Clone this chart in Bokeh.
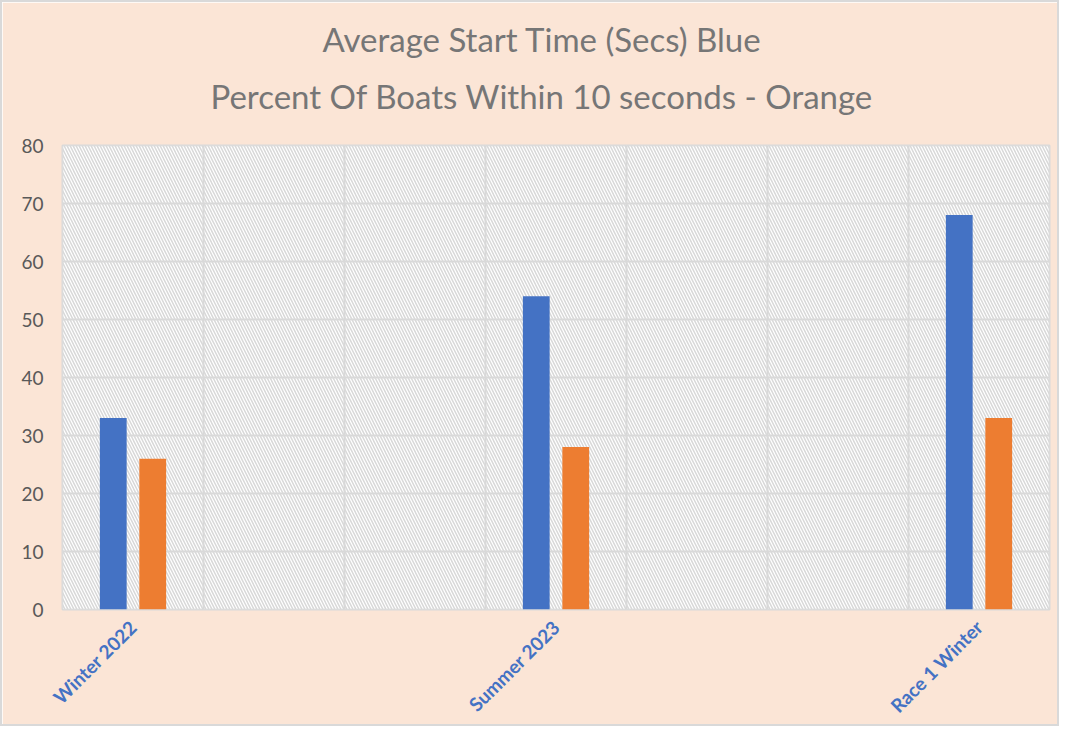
from math import pi
from bokeh.plotting import figure
from bokeh.models import (ColumnDataSource, FixedTicker, Range1d, BoxAnnotation, Title)
from bokeh.embed import file_html
from bokeh.resources import INLINE

# ---- data ----
categories = ["Winter 2022", "", "", "Summer 2023", "", "", "Race 1 Winter"]
avg_start_secs = [33, None, None, 54, None, None, 68]      # blue
pct_within_10s = [26, None, None, 28, None, None, 33]      # orange
title_line1 = "Average Start Time (Secs) Blue"
title_line2 = "Percent Of Boats Within 10 seconds - Orange"
y_ticks = [0, 10, 20, 30, 40, 50, 60, 70, 80]

positions = list(range(1, len(categories) + 1))

def build(vals):
    xs, tops = [], []
    for x, v in zip(positions, vals):
        if v is not None:
            xs.append(x)
            tops.append(v)
    return ColumnDataSource(dict(x=xs, top=tops))

src_blue = build(avg_start_secs)
src_orange = build(pct_within_10s)

BG = "#FBE5D6"
GRID = "#D9D9D9"
TITLE_C = "#767676"

p = figure(width=1059, height=726, output_backend="svg", toolbar_location=None,
           x_range=Range1d(0.5, len(categories) + 0.5), y_range=Range1d(y_ticks[0], y_ticks[-1]),
           min_border_left=60, min_border_right=12, min_border_bottom=115, min_border_top=0)

# spacer between second title line and the plot area (closest to frame)
p.add_layout(Title(text=" ", text_font="Lato", text_font_size="23px", standoff=0), "above")
p.add_layout(Title(text=title_line2, align="left", offset=148, text_font="Lato",
                   text_font_size="33px", text_font_style="normal", text_color=TITLE_C,
                   standoff=0), "above")
p.title.text = title_line1
p.title.align = "left"
p.title.offset = 260
p.title.text_font = "Lato"
p.title.text_font_size = "33px"
p.title.text_font_style = "normal"
p.title.text_color = TITLE_C
p.title.standoff = 29

p.background_fill_color = "white"
p.border_fill_color = BG
p.outline_line_color = GRID
p.outline_line_width = 2

# hatched plot-area background
p.add_layout(BoxAnnotation(level="image", fill_color="white", line_color=None,
                           hatch_pattern="\\", hatch_color="#D8D8D8", hatch_scale=6,
                           hatch_weight=1.5))

p.vbar(x=[x - 0.14 for x in src_blue.data["x"]], top=src_blue.data["top"], width=0.19,
       fill_color="#4472C4", line_color=None)
p.vbar(x=[x + 0.14 for x in src_orange.data["x"]], top=src_orange.data["top"], width=0.19,
       fill_color="#ED7D31", line_color=None)

# axes
p.xaxis.ticker = FixedTicker(ticks=positions)
p.xaxis.major_label_overrides = {x: c for x, c in zip(positions, categories)}
p.xaxis.major_label_orientation = pi / 4
p.xaxis.major_label_text_font = "Lato"
p.xaxis.major_label_text_font_style = "bold"
p.xaxis.major_label_text_font_size = "19px"
p.xaxis.major_label_text_color = "#4472C4"
p.xaxis.axis_line_color = None
p.xaxis.major_tick_line_color = None
p.xaxis.minor_tick_line_color = None
p.xaxis.major_label_standoff = 8

p.yaxis.ticker = FixedTicker(ticks=y_ticks)
p.yaxis.major_label_text_font = "Lato"
p.yaxis.major_label_text_font_size = "19px"
p.yaxis.major_label_text_color = "#595959"
p.yaxis.axis_line_color = None
p.yaxis.major_tick_line_color = None
p.yaxis.minor_tick_line_color = None
p.yaxis.major_label_standoff = 13

p.xgrid.ticker = FixedTicker(ticks=[x + 0.5 for x in [0] + positions])
p.xgrid.grid_line_color = GRID
p.xgrid.grid_line_width = 2
p.ygrid.ticker = FixedTicker(ticks=y_ticks)
p.ygrid.grid_line_color = GRID
p.ygrid.grid_line_width = 2

p.styles = {"border": "2px solid #D9D9D9", "box-sizing": "border-box"}

open("out.html", "w").write(file_html(p, INLINE))
